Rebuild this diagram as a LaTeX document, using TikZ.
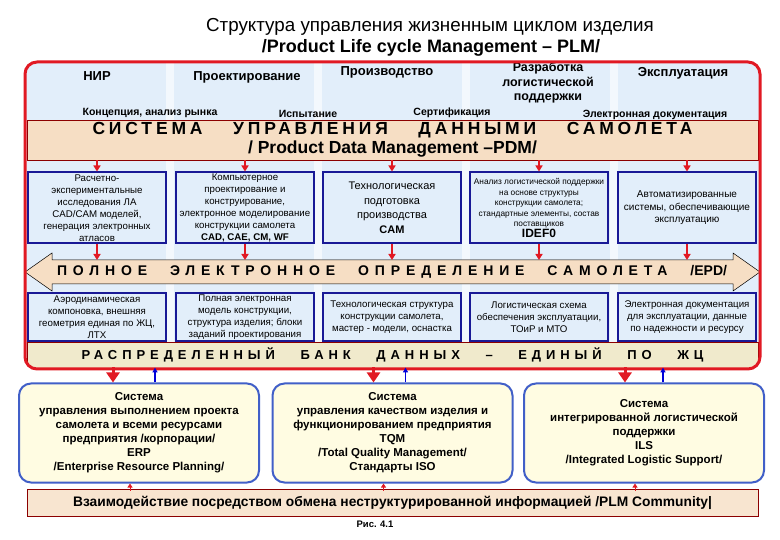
\documentclass[tikz,border=0pt]{standalone}
\usepackage{fontspec}
\setmainfont{Liberation Sans}
\usetikzlibrary{arrows.meta,calc}

\definecolor{ramka}{RGB}{225,25,35}
\definecolor{sinij}{RGB}{25,25,150}
\definecolor{golub}{RGB}{226,238,250}
\definecolor{persik}{RGB}{246,222,196}
\definecolor{bezh}{RGB}{240,234,204}
\definecolor{zhelt}{RGB}{255,252,226}
\definecolor{zheltram}{RGB}{65,95,200}

% разрядка букв
\newcommand{\razr}[1]{\addfontfeatures{LetterSpace=#1}}

\tikzset{
  blok/.style={draw=sinij, line width=2pt, fill=golub, minimum width=138pt, minimum height=71pt, inner sep=1pt, align=center, font=\fontsize{9.7}{12}\selectfont},
  nizblok/.style={blok, minimum height=48pt},
  sistema/.style={draw=zheltram, line width=2pt, fill=zhelt, rounded corners=12pt, minimum width=240pt, minimum height=99pt, align=center, font=\bfseries\fontsize{11.5}{14}\selectfont},
  polosa/.style={draw=red!55!black, line width=.6pt, inner sep=0pt, minimum width=731pt, align=center},
  faza/.style={font=\bfseries\fontsize{13}{14.5}\selectfont, align=center},
  etap/.style={font=\bfseries\fontsize{10.5}{12}\selectfont},
  vniz/.style={draw=ramka, line width=1.8pt, -{Triangle[width=7pt,length=6pt]}},
  bigvniz/.style={draw=ramka, line width=3pt, -{Triangle[width=13pt,length=10pt]}},
  vverh/.style={draw=blue!85!black, line width=1.5pt, -{Triangle[width=5pt,length=5pt]}},
}

\begin{document}
\begin{tikzpicture}[x=1pt, y=-1pt]
  \useasboundingbox (0,0) rectangle (780,540);

  % заголовок
  \node[font=\fontsize{18.8}{20}\selectfont] (title) at (430,27) {Структура управления жизненным циклом изделия};
  \node[font=\bfseries\fontsize{18}{20}\selectfont] (title2) at (431,48) {/Product Life cycle Management -- PLM/};

  % фон внутри рамки
  \begin{scope}
    \clip[rounded corners=12pt] (25,62) rectangle (760,369);
    \fill[golub] (25,62) rectangle (760,369);
    \foreach \x in {170,318,466,614}
      \fill[white, opacity=.6] (\x-4,62) rectangle (\x+4,342);

    \node[faza] (nir) at (97,76) {НИР};
    \node[faza] (proekt) at (247,77) {Проектирование};
    \node[faza] (proizv) at (387,72) {Производство};
    \node[faza, font=\bfseries\fontsize{12.5}{14.5}\selectfont] (logist) at (548,83) {Разработка\\логистической\\поддержки};
    \node[faza] (ekspl) at (683,73) {Эксплуатация};
    \node[etap] (konc) at (150,113) {Концепция, анализ рынка};
    \node[etap] (isp) at (308,114) {Испытание};
    \node[etap] (sert) at (452,113) {Сертификация};
    \node[etap] (edok) at (655,115) {Электронная документация};

    \node[polosa, fill=persik, minimum height=40pt, font=\bfseries\fontsize{17.5}{19}\selectfont] (pdm) at (392.5,140)
      {{\razr{22}\makebox[600pt]{СИСТЕМА\hfill УПРАВЛЕНИЯ\hfill ДАННЫМИ\hfill САМОЛЕТА}}\\/ Product Data Management --PDM/};

    % верхние блоки
    \node[blok] (v1) at (97,208) {Расчетно-\\экспериментальные\\исследования ЛА\\CAD/CAM моделей,\\генерация электронных\\атласов};
    \node[blok] (v2) at (245,208) {Компьютерное\\проектирование и\\конструирование,\\электронное моделирование\\конструкции самолета\\\textbf{CAD, CAE, CM, WF}};
    \node[blok, font=\fontsize{11}{14.5}\selectfont] (v3) at (392,208) {Технологическая\\подготовка\\производства\\\textbf{CAM}};
    \node[blok, font=\fontsize{8.3}{10.5}\selectfont] (v4) at (539,208) {Анализ логистической поддержки\\на основе структуры\\конструкции самолета;\\стандартные элементы, состав\\поставщиков\\{\bfseries\fontsize{12}{15}\selectfont IDEF0}};
    \node[blok, font=\fontsize{10}{12.5}\selectfont] (v5) at (687,208) {Автоматизированные\\системы, обеспечивающие\\эксплуатацию};

    % стрелка EPD
    \coordinate (strel) at (0,260);
    \filldraw[fill=persik, draw=black, line width=.5pt]
      (25,272) -- (52,253) -- (52,260) -- (733,260) -- (733,253) -- (760,272)
      -- (733,291) -- (733,284) -- (52,284) -- (52,291) -- cycle;
    \node[font=\bfseries\fontsize{14}{16}\selectfont] (epd) at (392,272)
      {\makebox[670pt]{{\razr{42}ПОЛНОЕ\hfill ЭЛЕКТРОННОЕ\hfill ОПРЕДЕЛЕНИЕ\hfill САМОЛЕТА}\hfill /EPD/}};

    % нижние блоки
    \node[nizblok] (n1) at (97,317.5) {Аэродинамическая\\компоновка, внешняя\\геометрия единая по ЖЦ,\\ЛТХ};
    \node[nizblok] (n2) at (245,317.5) {Полная электронная\\модель конструкции,\\структура изделия; блоки\\заданий проектирования};
    \node[nizblok] (n3) at (392,317.5) {Технологическая структура\\конструкции самолета,\\мастер - модели, оснастка};
    \node[nizblok] (n4) at (539,317.5) {Логистическая схема\\обеспечения эксплуатации,\\ТОиР и МТО};
    \node[nizblok] (n5) at (687,317.5) {Электронная документация\\для эксплуатации, данные\\по надежности и ресурсу};

    \node[polosa, fill=bezh, minimum height=26pt, font=\bfseries\fontsize{13}{15}\selectfont] (bank) at (392.5,355)
      {\razr{38}\makebox[622pt]{РАСПРЕДЕЛЕННЫЙ\hfill БАНК\hfill ДАННЫХ\hfill --\hfill ЕДИНЫЙ\hfill ПО\hfill ЖЦ}};
  \end{scope}

  \foreach \i in {1,...,5} {
    \draw[vniz] (pdm.south -| v\i) -- (v\i.north);
    \draw[vniz] (v\i.south) -- (v\i.south |- strel);
  }

  % красная рамка PLM
  \draw[ramka, line width=3pt, rounded corners=12pt] (25,62) rectangle (760,369);

  % системы
  \node[sistema] (s1) at (139,433) {Система\\управления выполнением проекта\\самолета и всеми ресурсами\\предприятия /корпорации/\\ERP\\/Enterprise Resource Planning/};
  \node[sistema] (s2) at (392.5,433) {Система\\управления качеством изделия и\\функционированием предприятия\\TQM\\/Total Quality Management/\\Стандарты ISO};
  \node[sistema] (s3) at (644,433) {Система\\интегрированной логистической\\поддержки\\ILS\\/Integrated Logistic Support/};

  \node[polosa, fill=persik!80!white, minimum height=27pt, font=\bfseries\fontsize{13.8}{15}\selectfont] (plm) at (392.5,502.5)
    {Взаимодействие посредством обмена неструктурированной информацией /PLM Community|};
  \node[font=\bfseries\fontsize{9.5}{10}\selectfont] (ris) at (375,524) {Рис. 4.1};

  \foreach \i/\d/\u in {1/-26/16, 2/-19/13, 3/-19/19} {
    \draw[bigvniz] ($(s\i.north)+(\d,-15)$) -- ($(s\i.north)+(\d,0)$);
    \draw[vverh] ($(s\i.north)+(\u,0)$) -- ($(s\i.north)+(\u,-15)$);
    \draw[ramka, line width=1pt, -{Triangle[width=5pt,length=4pt]}] ($(s\i.south)+(-9,7)$) -- ($(s\i.south)+(-9,0)$);
  }
\end{tikzpicture}
\end{document}
